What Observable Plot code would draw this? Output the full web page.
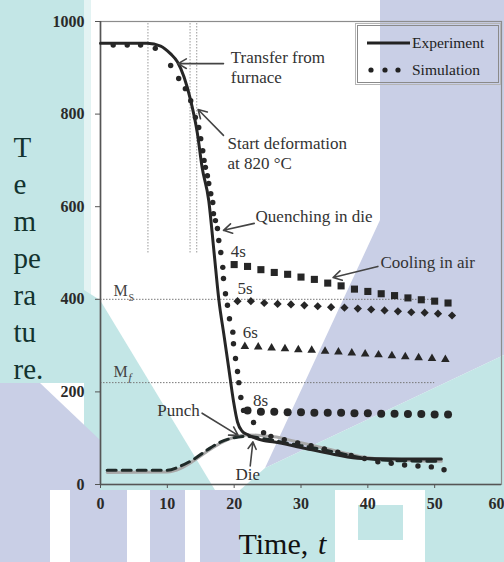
<!DOCTYPE html>
<html><head><meta charset="utf-8">
<script src="https://cdn.jsdelivr.net/npm/d3@7"></script>
<script src="https://cdn.jsdelivr.net/npm/@observablehq/plot@0.6"></script>
<style>
html,body{margin:0;padding:0;background:#fff;overflow:hidden}
#wrap{position:relative;width:504px;height:562px;overflow:hidden}
#bg,#chart{position:absolute;left:0;top:0}
#legend{position:absolute;left:357px;top:25px;width:140px;height:56px;border:1px solid #8a8a8a;outline:1px solid #b5b5b5;outline-offset:1px;font-family:"Liberation Serif",serif;font-size:15px;color:#222;}
</style></head><body>
<div id="wrap">
<svg id="bg" width="504" height="562">
  <polygon points="0,0 84,0 84,383 0,383" fill="#c3e6e6"/>
  <polygon points="84,0 91,0 91,300 84,300" fill="#e3f3f3"/>
  <polygon points="84,290 100,300 215,490 84,490" fill="#c3e6e6"/>
  <polygon points="0,383 40,383 100,440 100,490 0,490" fill="#c9cfe6"/>
  <polygon points="380,0 504,0 504,355 265,468 380,220" fill="#c9cfe6"/>
  <polygon points="504,355 504,490 240,490 265,468" fill="#c3e6e6"/>
  <rect x="0" y="490" width="240" height="72" fill="#c9cfe6"/>
  <rect x="240" y="490" width="264" height="72" fill="#c3e6e6"/>
  <rect x="50" y="490" width="20" height="72" fill="#fff"/>
  <rect x="127" y="490" width="23" height="72" fill="#fff"/>
  <rect x="185" y="490" width="15" height="72" fill="#fff"/>
  <rect x="335" y="490" width="90" height="72" fill="#fff"/>
  <rect x="358" y="505" width="45" height="35" fill="#c3e6e6"/>
</svg>
<div id="chart"></div>
<div id="legend">
  <svg width="140" height="56" style="position:absolute;left:0;top:0">
    <line x1="9" x2="52" y1="17" y2="17" stroke="#222" stroke-width="3"/>
    <circle cx="13" cy="44" r="2.6" fill="#222"/>
    <circle cx="27" cy="44" r="2.6" fill="#222"/>
    <circle cx="40" cy="44" r="2.6" fill="#222"/>
    <text x="54" y="22" font-family="Liberation Serif" font-size="15.5" fill="#222">Experiment</text>
    <text x="54" y="49" font-family="Liberation Serif" font-size="15.5" fill="#222">Simulation</text>
  </svg>
</div>
</div>
<script>
// Experiment (solid line)
const expT    = [0,7,9,10.5,11.5,12.5,13.5,14.5,15.2,16.2,17,17.7,18.5,19.2,19.9,20.5,21.2,22,24.4,26,30,35,39,45,51];
const expTemp = [953,953,947,930,913,880,829,758,685,613,500,400,320,250,180,135,115,108,95,92,80,65,56,55,55];
// Simulation (small dots)
const simT    = [1.9,4,6,8.2,10.5,11.7,12.7,13.5,14.2,14.7,15,15.3,15.5,15.7,16,16.2,16.5,16.8,16.9,17.2,17.5,17.7,18,18.3,18.4,18.7,19,19.3,19.8,19.9,20.2,20.5,20.7,21,21.4,22.9,24.4,25.5,27.5,29.5,31.5,33.5,35.5,37.5,39.5,41.5,43.5,45.5,47.5,49.5,51.4];
const simTemp = [949,949,949,942,905,877,855,829,793,771,747,721,700,685,667,650,628,609,585,570,553,527,501,469,445,412,387,358,329,304,272,244,220,188,160,134,112,104,97,90,84,77,70,63,56,49,46,42,40,38,32];
// Cooling in air after transfer at 4s, 5s, 6s, 8s
const t4s = [20,22,24,26,28,30,32,34,36,38,40,42,44,46,48,50,52];
const T4s = [475,471,464,458,454,448,443,435,429,422,417,412,408,403,399,396,392];
const t5s = [20.5,22.5,24.5,26.5,28.5,30.5,32.5,34.5,36.5,38.5,40.5,42.5,44.5,46.5,48.5,50.5,52.6];
const T5s = [396,396,392,390,389,387,385,383,382,380,378,376,374,372,371,369,365];
const t6s = [21.6,23.6,25.6,27.6,29.6,31.6,33.6,35.6,37.6,39.6,41.6,43.6,45.6,47.6,49.6,51.6];
const T6s = [298,297,295,293,291,290,288,286,284,282,280,278,276,274,272,270];
const t8s = [22,24,26,28,30,32,34,36,38,40,42,44,46,48,50,52];
const T8s = [160,157,157,156,156,155,155,155,154,154,153,153,152,152,151,151];
// Tool temperatures
const punchT    = [1,10,12,14,16,18,20,22,24,26,28,30,33,36,39,42,46,51];
const punchTemp = [31,31,40,55,75,92,101,104,100,95,89,84,76,67,58,53,51,50];
const dieT      = [1,10,12,14,16,18,20,22,24,26,28,30,33,36,39,42,46,51];
const dieTemp   = [26,27,35,52,72,90,102,107,106,103,97,90,80,70,60,55,52,50];
// Reference lines
const msTemp = 400, mfTemp = 220;
const eventTimes = [7.1, 13.4, 14.4];
// Axis ticks
const xTicks = [0,10,20,30,40,50,60];
const yTicks = [0,200,400,600,800,1000];
// Annotations
const noteText = ["Transfer from\nfurnace","Start deformation\nat 820 °C","Quenching in die","4s","5s","6s","8s","Cooling in air","Punch","Die"];
const noteX    = [19.5,19.0,23.2,19.5,20.5,21.3,22.8,41.9,8.5,20.2];
const noteY    = [868,682,566,492,412,317,170,468,149,9];
const arrowX1 = [18.4,18.4,23.0,41.5,15.2,22.4];
const arrowY1 = [909,754,564,471,154,40];
const arrowX2 = [11.6,14.6,18.4,34.8,20.6,22.8];
const arrowY2 = [909,810,549,447,106,92];

const zip = (a,b) => a.map((v,i) => ({x:v, y:b[i]}));
const notes = noteText.map((s,i) => ({s, x:noteX[i], y:noteY[i]}));
const arrows = arrowX1.map((v,i) => ({x1:v, y1:arrowY1[i], x2:arrowX2[i], y2:arrowY2[i]}));
const ink = "#262626";
const serif = "Liberation Serif";

const chart = Plot.plot({
  width: 504, height: 562,
  marginLeft: 100, marginRight: 3, marginTop: 21, marginBottom: 78,
  x: {domain: [0, 60]},
  y: {domain: [0, 1000]},
  style: {background: "transparent", fontFamily: serif, color: "#2a2a2a", overflow: "visible"},
  marks: [
    Plot.frame({stroke: "#8c8c8c", strokeWidth: 1.2}),
    Plot.ruleY([msTemp, mfTemp], {x1: 0, x2: 50, stroke: "#777", strokeWidth: 1, strokeDasharray: "1.5,1.5"}),
    Plot.ruleX(eventTimes, {y1: 500, y2: 1000, stroke: "#999", strokeWidth: 1, strokeDasharray: "1.5,1.5"}),
    Plot.ruleX([0], {stroke: "#555", strokeWidth: 1.6}),
    Plot.ruleY([0], {stroke: "#555", strokeWidth: 1.6}),
    Plot.axisY({ticks: yTicks, tickFormat: d => String(d), tickSize: 5, tickPadding: 11, fontSize: 16, fontWeight: "bold", label: null, stroke: "#555"}),
    Plot.axisX({ticks: xTicks.slice(0, -1), tickFormat: d => String(d), tickSize: 4, tickPadding: 9, fontSize: 16, fontWeight: "bold", label: null, stroke: "#555"}),
    Plot.axisX({ticks: xTicks.slice(-1), tickFormat: d => String(d), tickSize: 4, tickPadding: 9, fontSize: 16, fontWeight: "bold", label: null, stroke: "#555", textAnchor: "end", dx: 3}),
    // tools
    Plot.line(zip(dieT, dieTemp), {x: "x", y: "y", curve: "monotone-x", stroke: "#a8a8a8", strokeWidth: 3}),
    Plot.line(zip(punchT, punchTemp), {x: "x", y: "y", curve: "monotone-x", stroke: "#1f2a28", strokeWidth: 3, strokeDasharray: "9,6"}),
    // experiment
    Plot.line(zip(expT, expTemp), {x: "x", y: "y", curve: "monotone-x", stroke: ink, strokeWidth: 3}),
    // simulation
    Plot.dot(zip(simT, simTemp), {x: "x", y: "y", r: 2.7, fill: ink}),
    Plot.dot(zip(t4s, T4s), {x: "x", y: "y", symbol: "square", r: 4, fill: ink}),
    Plot.dot(zip(t5s, T5s), {x: "x", y: "y", symbol: "diamond2", r: 3.7, fill: ink}),
    Plot.dot(zip(t6s, T6s), {x: "x", y: "y", symbol: "triangle", r: 3.2, fill: ink}),
    Plot.dot(zip(t8s, T8s), {x: "x", y: "y", r: 4, fill: ink}),
    // annotations
    Plot.arrow(arrows, {x1: "x1", y1: "y1", x2: "x2", y2: "y2", stroke: "#444", strokeWidth: 1.6, headLength: 9}),
    Plot.text(notes, {x: "x", y: "y", text: "s", textAnchor: "start", lineAnchor: "bottom", fontSize: 17, lineHeight: 1.18, fill: "#333"}),
    // Ms / Mf labels
    Plot.text(["M","M"], {x: [1.95,1.95], y: [408,233], text: d => d, textAnchor: "start", lineAnchor: "bottom", fontSize: 16, fill: "#444"}),
    Plot.text(["S"], {x: [4.2], y: [397], text: d => d, textAnchor: "start", lineAnchor: "bottom", fontSize: 10, fill: "#444"}),
    Plot.text(["f"], {x: [4.2], y: [224], text: d => d, textAnchor: "start", lineAnchor: "bottom", fontSize: 11, fontStyle: "italic", fill: "#444"}),
    // axis titles
    Plot.text(["T\ne\nm\npe\nra\ntu\nre."], {text: d => d, frameAnchor: "left", dx: -87, dy: 3.5, textAnchor: "start", fontSize: 29, lineHeight: 1.276, fill: "#12332f"}),
    Plot.text(["Time,"], {text: d => d, frameAnchor: "bottom", dx: -62.5, dy: 69, textAnchor: "start", lineAnchor: "bottom", fontSize: 30, fill: "#111"}),
    Plot.text(["t"], {text: d => d, frameAnchor: "bottom", dx: 17, dy: 69, textAnchor: "start", lineAnchor: "bottom", fontSize: 30, fontStyle: "italic", fill: "#111"})
  ]
});
document.getElementById("chart").appendChild(chart);
</script>
</body></html>
